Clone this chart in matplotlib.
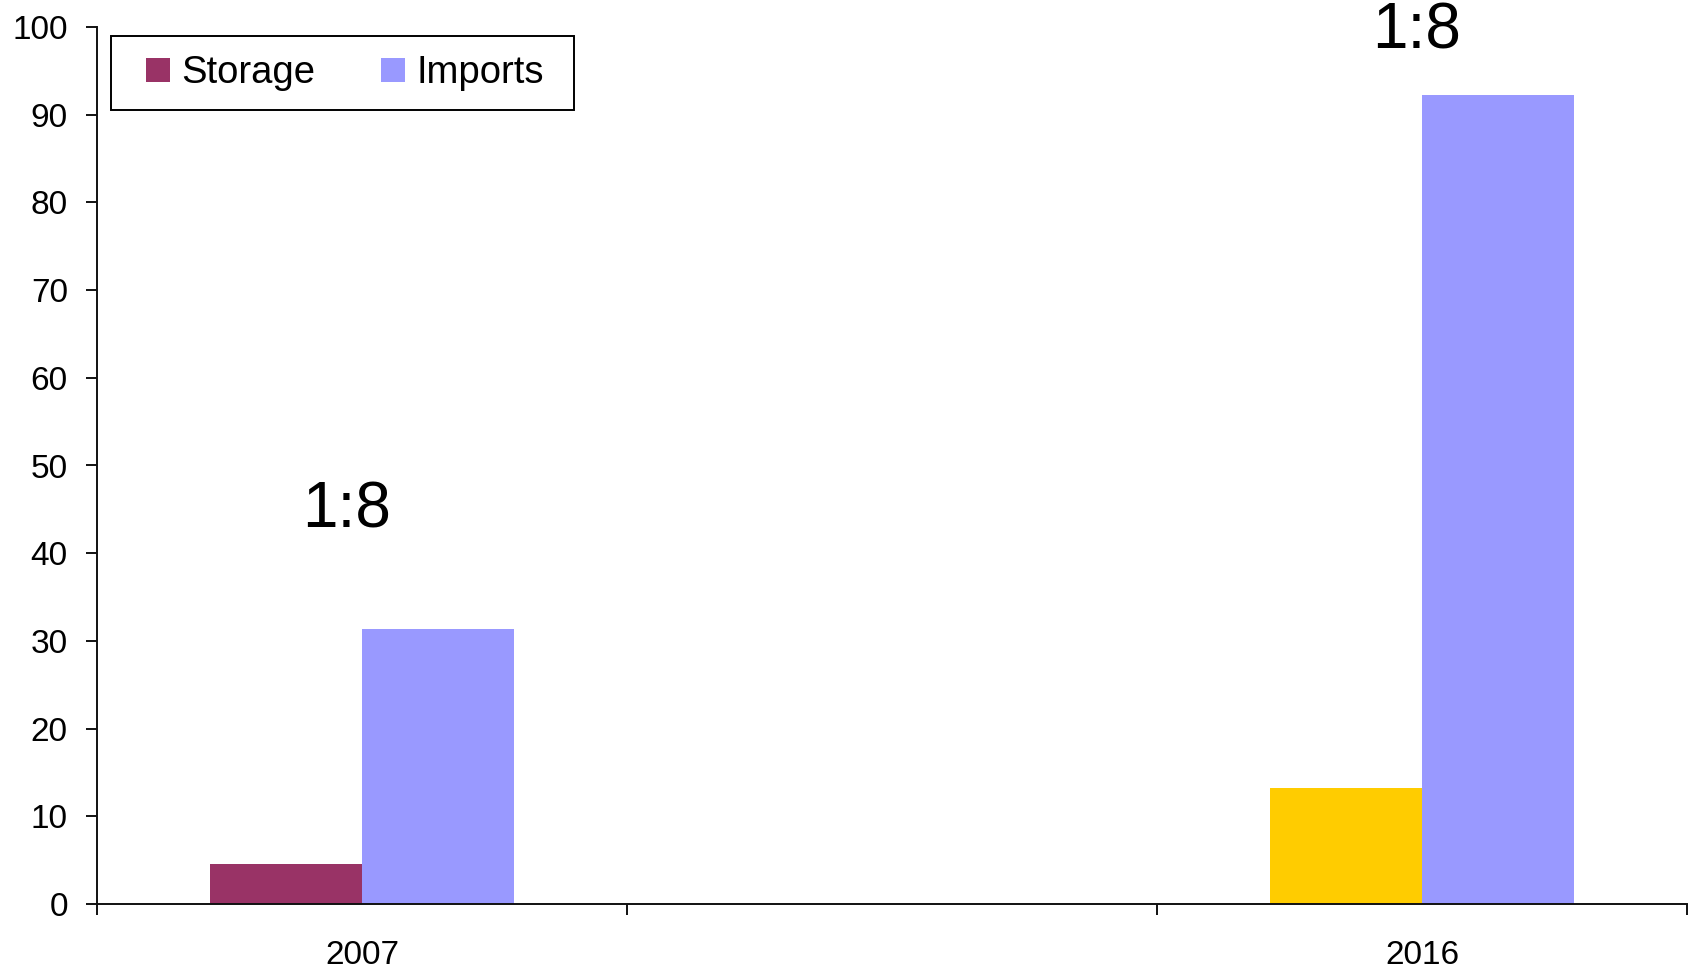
import numpy as np
import matplotlib
matplotlib.use("Agg")
import matplotlib.pyplot as plt
from matplotlib.patches import Patch, Rectangle
from matplotlib.legend_handler import HandlerBase

plt.rcParams['font.family'] = ['Liberation Sans', 'DejaVu Sans']

categories = ["2007", "", "2016"]
storage = [4.6, np.nan, 13.2]
imports = [31.4, np.nan, 92.3]
storage_colors = ["#993366", "#993366", "#FFCC00"]
imports_color = "#9999FF"
series_names = ["Storage", "Imports"]
ratio_labels = ["1:8", "1:8"]
ratio_x = [-0.03, 1.99]
ratio_y = [44.9, 99.5]
yticks = list(range(0, 101, 10))

W, H = 1688, 972
fig = plt.figure(figsize=(W / 100, H / 100), dpi=100)
ax = fig.add_axes([97 / W, (H - 904) / H, (1687 - 97) / W, (904 - 27) / H])

x = np.arange(len(categories))
bw = 0.286
ax.bar(x - bw / 2, storage, width=bw, color=storage_colors, linewidth=0)
ax.bar(x + bw / 2, imports, width=bw, color=imports_color, linewidth=0)

ax.set_xlim(-0.5, len(categories) - 0.5)
ax.set_ylim(0, 100)
ax.set_yticks(yticks)
ax.set_xticks(np.arange(len(categories) + 1) - 0.5)
ax.set_xticklabels([])
ax.set_xticks(x, minor=True)
ax.set_xticklabels(categories, minor=True)

for s in ["top", "right"]:
    ax.spines[s].set_visible(False)
for s in ["left", "bottom"]:
    ax.spines[s].set_linewidth(1.4)
    ax.spines[s].set_color("#111111")

ax.tick_params(axis="both", which="major", length=8, width=1.4, color="#111111",
               labelsize=24, direction="out")
ax.tick_params(axis="y", pad=13)
ax.tick_params(axis="x", which="minor", length=0, labelsize=24, pad=26)

for t, xx, yy in zip(ratio_labels, ratio_x, ratio_y):
    ax.text(xx, yy, t, ha="center", va="center", fontsize=46, clip_on=False)


class SquareHandler(HandlerBase):
    def create_artists(self, legend, orig_handle, xdescent, ydescent, width, height,
                       fontsize, trans):
        sq = 0.63 * fontsize
        r = Rectangle((-xdescent + width - sq, -ydescent + (height - sq) / 2), sq, sq,
                      facecolor=orig_handle.get_facecolor(), edgecolor="none",
                      transform=trans)
        return [r]


# legend frame
ax.add_patch(Rectangle((0.0088, 0.9054), 0.2912, 0.0844, transform=ax.transAxes,
                       facecolor="white", edgecolor="black", linewidth=1.4,
                       zorder=4, clip_on=False))

handles = [Patch(facecolor=storage_colors[0]), Patch(facecolor=imports_color)]
leg = ax.legend(handles, series_names, loc="center left", bbox_to_anchor=(0.0308, 0.9475),
                ncol=2, fontsize=27.5, frameon=False, borderaxespad=0, borderpad=0,
                handlelength=0.63, handleheight=0.7, handletextpad=0.29,
                columnspacing=1.73, handler_map={Patch: SquareHandler()})
leg.set_zorder(5)

fig.savefig("out.png", dpi=100, facecolor="white")
